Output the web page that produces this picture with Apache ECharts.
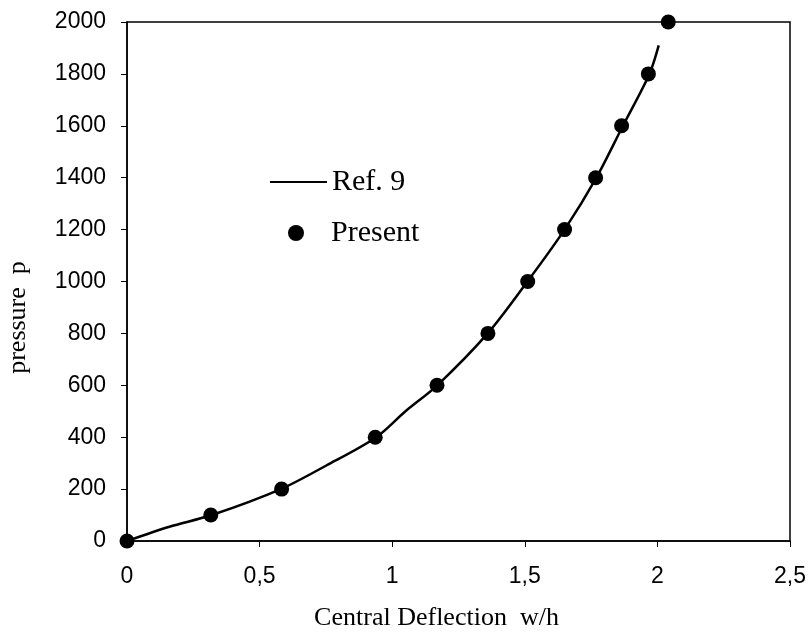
<!DOCTYPE html>
<html>
<head>
<meta charset="utf-8">
<script src="https://cdn.jsdelivr.net/npm/echarts@6/dist/echarts.min.js"></script>
<style>
html, body { margin: 0; padding: 0; background: #fff; }
#chart { width: 810px; height: 634px; }
</style>
</head>
<body>
<div id="chart"></div>
<script>
// Ref. 9 curve
var refX = [0, 0.16, 0.32, 0.58, 0.75, 0.94, 1.05, 1.17, 1.36, 1.51, 1.65, 1.77, 1.87, 1.97, 2.005];
var refY = [0, 55, 100, 200, 290, 400, 500, 600, 800, 1000, 1200, 1400, 1600, 1800, 1910];
// Present points
var presX = [0, 0.316, 0.583, 0.936, 1.169, 1.361, 1.511, 1.650, 1.767, 1.865, 1.966, 2.041];
var presY = [0, 100, 200, 400, 600, 800, 1000, 1200, 1400, 1600, 1800, 2000];

var sans = 'Liberation Sans, Arial, sans-serif';
var serif = 'Liberation Serif, Times New Roman, serif';

function pairs(xs, ys) {
	var out = [];
	for (var i = 0; i < xs.length; i++) {
		out.push([xs[i], ys[i]]);
	}
	return out;
}

function comma(v) {
	return String(v).replace('.', ',');
}

var chart = echarts.init(document.getElementById('chart'));
var option = {
	animation: false,
	grid: {
		left: 127, right: 20, top: 22, bottom: 93,
		outerBoundsMode: 'none',
		show: true, borderColor: '#000', borderWidth: 1.5
	},
	legend: [
		{
			data: [{ name: 'Ref. 9', icon: 'rect' }],
			left: 265, top: 162,
			itemWidth: 57, itemHeight: 2,
			textStyle: { fontFamily: serif, fontSize: 30, color: '#000' }
		},
		{
			data: [{ name: 'Present', icon: 'circle' }],
			left: 283, top: 213,
			itemWidth: 16, itemHeight: 16,
			textStyle: { fontFamily: serif, fontSize: 30, color: '#000', padding: [0, 0, 0, 22] }
		}
	],
	xAxis: {
		type: 'value', min: 0, max: 2.5, interval: 0.5,
		name: 'Central Deflection  w/h',
		nameLocation: 'middle', nameGap: 64,
		nameTextStyle: { fontFamily: serif, fontSize: 26, color: '#000', padding: [0, 44, 0, 0] },
		axisLine: { show: true, lineStyle: { color: '#000', width: 1.5 } },
		axisTick: { show: true, length: 6, lineStyle: { color: '#000' } },
		axisLabel: { formatter: comma, fontFamily: sans, fontSize: 23, color: '#000', margin: 24 },
		splitLine: { show: false }
	},
	yAxis: {
		type: 'value', min: 0, max: 2000, interval: 200,
		name: 'pressure  p',
		nameLocation: 'middle', nameGap: 96,
		nameTextStyle: { fontFamily: serif, fontSize: 26, color: '#000', padding: [0, 72, 0, 0] },
		axisLine: { show: true, lineStyle: { color: '#000', width: 1.5 } },
		axisTick: { show: true, length: 6, lineStyle: { color: '#000' } },
		axisLabel: { formatter: function (v) { return String(v); }, fontFamily: sans, fontSize: 23, color: '#000', margin: 21 },
		splitLine: { show: false }
	},
	series: [
		{
			name: 'Ref. 9',
			type: 'line',
			smooth: 0.3,
			symbol: 'none',
			lineStyle: { color: '#000', width: 2.5 },
			itemStyle: { color: '#000' },
			data: pairs(refX, refY),
			z: 2
		},
		{
			name: 'Present',
			type: 'scatter',
			symbol: 'circle',
			symbolSize: 15,
			itemStyle: { color: '#000', opacity: 1 },
			data: pairs(presX, presY),
			z: 3
		}
	]
};
chart.setOption(option);
</script>
</body>
</html>
